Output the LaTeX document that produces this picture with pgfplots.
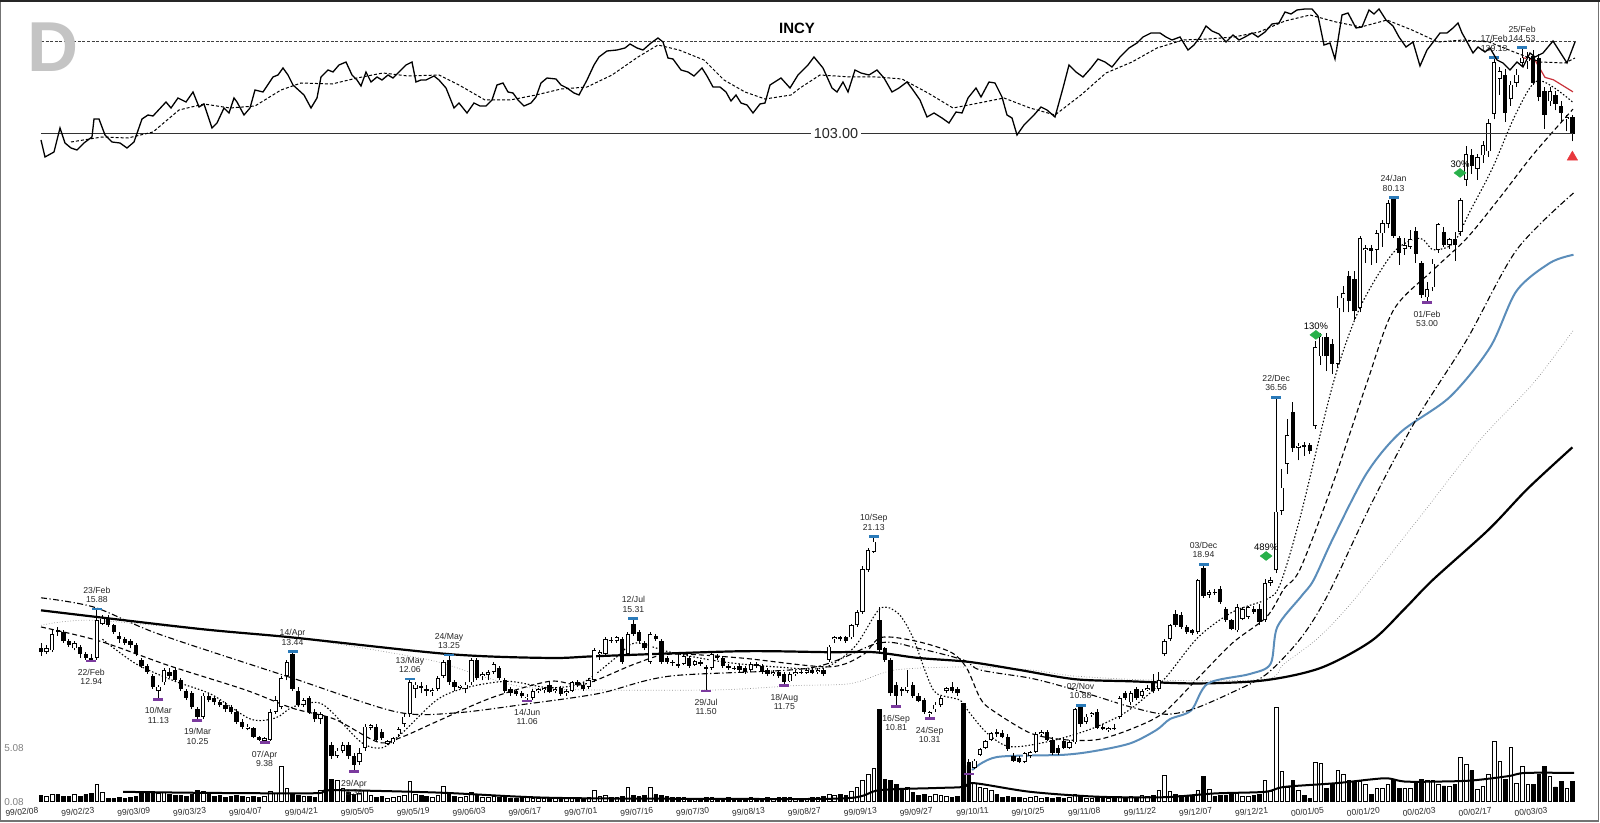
\documentclass[border=0pt]{standalone}
\usepackage{pgfplots}
\usepackage{pgfplotstable}
\pgfplotsset{compat=1.18}
\usepackage{fontspec}
\setmainfont{Liberation Sans}

\definecolor{hiblue}{HTML}{2A7AB9}
\definecolor{lopurple}{HTML}{7B3A9E}
\definecolor{dgreen}{HTML}{28B04A}
\definecolor{mablue}{HTML}{5B8DBA}
\definecolor{redl}{HTML}{C8323A}
\definecolor{tri}{HTML}{E8383D}

\pgfplotstableread{
i o h l c v
0 13.6 13.9 13.2 13.4 0.5
1 13.4 13.8 13.3 13.6 0.4
2 13.5 14.6 13.4 14.4 0.6
3 14.6 14.8 14.3 14.5 0.6
4 14.5 14.6 13.9 14.0 0.4
5 14.0 14.1 13.7 13.8 0.4
6 13.6 14.0 13.5 13.9 0.6
7 13.7 13.8 13.1 13.3 0.4
8 13.3 13.4 13.0 13.1 0.6
9 13.1 13.3 12.94 13.0 0.7
10 13.1 15.88 13.0 15.2 1.5
11 15.0 15.5 14.9 15.3 0.8
12 15.3 15.5 14.8 14.9 0.2
13 14.9 15.0 14.4 14.5 0.2
14 14.3 14.5 13.9 14.1 0.3
15 14.1 14.2 13.8 13.9 0.2
16 14.0 14.1 13.6 13.8 0.3
17 13.8 13.9 13.2 13.3 0.4
18 13.0 13.1 12.6 12.7 0.9
19 12.7 12.8 12.3 12.4 0.8
20 12.2 12.3 11.6 11.7 0.9
21 11.5 11.8 11.13 11.7 0.7
22 11.9 12.6 11.8 12.5 0.8
23 12.4 12.6 12.1 12.2 0.6
24 12.5 12.6 11.9 12.0 0.5
25 12.0 12.1 11.5 11.6 0.5
26 11.5 11.6 11.1 11.2 0.4
27 11.4 11.5 10.7 10.8 0.6
28 10.7 10.8 10.25 10.4 1.0
29 10.4 11.4 10.3 11.3 0.9
30 11.3 11.4 11.0 11.1 0.6
31 11.2 11.3 10.9 11.0 0.4
32 11.0 11.1 10.8 10.9 0.5
33 10.9 11.0 10.6 10.7 0.3
34 10.8 10.9 10.5 10.6 0.4
35 10.6 10.7 10.1 10.2 0.5
36 10.2 10.3 9.9 10.0 0.4
37 9.9 10.1 9.85 10.0 0.3
38 9.95 10.0 9.55 9.6 0.4
39 9.6 9.65 9.45 9.5 0.3
40 9.45 9.6 9.38 9.55 0.4
41 9.5 10.7 9.45 10.6 0.9
42 10.6 11.3 10.5 11.1 0.7
43 10.8 12.2 10.7 12.1 3.2
44 12.2 13.0 12.0 12.9 1.2
45 13.3 13.44 11.5 11.6 0.6
46 11.5 11.7 10.8 10.9 0.5
47 10.9 11.2 10.8 11.1 0.4
48 11.2 11.3 10.5 10.6 0.4
49 10.6 10.7 10.2 10.3 0.3
50 10.3 10.6 10.1 10.5 1.0
51 10.0 10.1 8.8 8.9 7.8
52 9.3 9.4 8.8 8.9 2.0
53 8.9 9.2 8.85 9.1 1.9
54 9.1 9.4 9.0 9.3 1.2
55 9.3 9.4 8.8 8.9 0.8
56 8.9 9.0 8.38 8.6 0.6
57 8.7 9.2 8.6 9.0 0.7
58 9.2 10.1 9.1 10.0 1.0
59 9.95 10.1 9.85 10.05 0.5
60 10.0 10.1 9.4 9.5 0.3
61 9.8 9.9 9.5 9.55 0.4
62 9.35 9.5 9.3 9.45 0.2
63 9.4 9.6 9.35 9.55 0.3
64 9.7 10.0 9.6 9.9 0.4
65 10.1 10.5 10.0 10.4 0.5
66 10.5 12.06 10.4 11.9 1.8
67 11.6 11.9 11.2 11.8 0.6
68 11.75 11.9 11.4 11.65 0.5
69 11.6 11.8 11.3 11.5 0.4
70 11.45 11.65 11.3 11.55 0.3
71 11.6 12.2 11.5 12.1 0.5
72 12.2 13.0 12.1 12.9 1.4
73 13.0 13.25 11.8 11.9 0.6
74 11.9 12.0 11.5 11.7 0.4
75 11.65 11.8 11.6 11.75 0.3
76 11.6 11.9 11.4 11.8 0.4
77 11.9 13.1 11.8 13.0 0.8
78 13.0 13.1 12.0 12.1 0.5
79 12.2 12.4 12.0 12.3 0.3
80 12.25 12.5 12.0 12.4 0.3
81 12.4 12.9 12.3 12.8 0.4
82 12.6 12.7 12.0 12.1 0.3
83 12.0 12.1 11.4 11.5 0.4
84 11.6 11.7 11.3 11.4 0.2
85 11.5 11.6 11.3 11.35 0.2
86 11.4 11.5 11.2 11.3 0.3
87 11.2 11.35 11.06 11.25 0.3
88 11.2 11.6 11.1 11.5 0.2
89 11.5 11.65 11.4 11.6 0.2
90 11.55 11.7 11.4 11.65 0.2
91 11.8 11.9 11.4 11.45 0.3
92 11.5 11.7 11.4 11.6 0.2
93 11.65 11.75 11.3 11.35 0.2
94 11.4 11.6 11.3 11.5 0.2
95 11.5 11.95 11.45 11.9 0.3
96 11.9 12.0 11.7 11.8 0.2
97 11.8 11.9 11.5 11.6 0.2
98 11.7 12.1 11.6 12.0 0.3
99 12.0 13.6 11.9 13.5 1.0
100 13.3 13.5 13.0 13.4 0.4
101 13.3 14.2 13.2 14.1 0.5
102 14.05 14.2 13.9 14.0 0.3
103 14.0 14.3 13.9 14.2 0.3
104 14.1 14.2 12.8 12.9 0.4
105 13.3 14.5 13.2 14.4 1.3
106 15.0 15.31 14.3 14.4 0.5
107 14.5 14.6 13.9 14.0 0.4
108 13.9 14.0 13.5 13.6 0.5
109 12.9 14.5 12.8 14.4 1.3
110 14.3 14.4 14.0 14.1 0.6
111 14.0 14.1 12.8 12.9 0.5
112 13.1 13.2 12.8 12.9 0.4
113 12.9 13.0 12.7 12.85 0.3
114 12.8 13.3 12.6 12.7 0.3
115 12.8 13.3 12.75 13.2 0.3
116 13.1 13.2 12.6 12.7 0.2
117 12.75 13.0 12.7 12.95 0.2
118 12.9 13.0 12.7 12.8 0.2
119 12.65 12.75 11.5 12.55 0.3
120 12.6 13.4 12.5 13.3 0.3
121 13.2 13.3 13.0 13.1 0.2
122 13.1 13.2 12.6 12.7 0.2
123 12.7 12.8 12.5 12.6 0.3
124 12.6 12.7 12.5 12.55 0.2
125 12.7 12.8 12.4 12.5 0.2
126 12.6 12.7 12.3 12.4 0.2
127 12.5 12.9 12.4 12.8 0.3
128 12.8 12.9 12.6 12.7 0.2
129 12.7 12.8 12.3 12.4 0.2
130 12.5 12.6 12.2 12.3 0.3
131 12.3 12.5 12.2 12.4 0.2
132 12.4 12.5 12.1 12.2 0.3
133 12.3 12.4 11.75 11.9 0.3
134 11.95 12.4 11.9 12.3 0.3
135 12.3 12.5 12.2 12.4 0.2
136 12.4 12.5 12.3 12.35 0.2
137 12.35 12.6 12.3 12.5 0.2
138 12.5 12.6 12.3 12.35 0.3
139 12.4 12.6 12.3 12.5 0.3
140 12.5 12.6 12.2 12.3 0.4
141 13.0 13.8 12.9 13.7 0.6
142 14.1 14.3 13.9 14.2 0.5
143 14.2 14.3 14.0 14.1 0.6
144 14.2 14.3 13.9 14.0 0.5
145 14.2 15.0 14.1 14.9 0.9
146 14.9 15.8 14.8 15.7 1.3
147 15.7 18.8 15.6 18.6 1.9
148 18.5 20.2 18.4 20.0 2.5
149 19.9 21.13 19.8 20.7 3.0
150 15.2 16.0 13.4 13.5 8.5
151 13.6 13.7 12.9 13.0 2.0
152 13.0 13.1 11.3 11.4 1.9
153 11.8 11.9 10.81 11.3 1.5
154 11.6 11.7 11.3 11.5 1.0
155 11.5 12.5 11.4 11.7 1.3
156 11.8 11.9 11.2 11.3 0.8
157 11.3 11.4 11.0 11.05 0.5
158 11.1 11.2 10.5 10.6 0.6
159 10.5 10.65 10.31 10.6 0.4
160 10.7 11.0 10.6 10.9 0.6
161 10.9 11.3 10.8 11.2 0.5
162 11.5 11.7 11.4 11.65 0.4
163 11.7 11.9 11.4 11.5 0.3
164 11.6 11.7 11.3 11.4 0.4
165 8.9 9.0 8.3 8.5 9.0
166 8.7 8.8 8.35 8.45 3.3
167 8.5 8.8 8.45 8.75 1.6
168 8.95 9.2 8.9 9.15 1.3
169 9.2 9.5 9.15 9.45 1.2
170 9.5 9.8 9.45 9.75 1.0
171 9.8 9.9 9.6 9.7 0.6
172 9.75 9.85 9.55 9.6 0.3
173 9.6 9.7 9.1 9.15 0.4
174 8.9 9.0 8.7 8.75 0.3
175 8.85 8.9 8.65 8.7 0.3
176 8.7 9.05 8.65 9.0 0.2
177 8.9 9.1 8.85 9.05 0.3
178 9.05 9.8 9.0 9.7 0.4
179 9.7 9.85 9.65 9.8 0.2
180 9.8 9.85 9.45 9.5 0.3
181 9.5 9.6 8.95 9.0 0.2
182 9.2 9.3 8.95 9.0 0.3
183 9.45 9.6 9.15 9.2 0.2
184 9.2 9.5 9.15 9.4 0.3
185 9.4 10.75 9.35 10.7 0.6
186 10.8 10.88 10.0 10.1 0.4
187 10.2 10.5 10.1 10.4 0.2
188 10.45 10.6 10.4 10.55 0.2
189 10.6 10.7 9.9 9.95 0.3
190 10.0 10.1 9.85 9.9 0.2
191 9.85 10.0 9.8 9.95 0.2
192 9.95 10.1 9.85 9.9 0.2
193 10.4 11.3 10.3 11.2 0.4
194 11.4 11.5 11.1 11.2 0.3
195 11.0 11.5 10.9 11.4 0.4
196 11.6 11.7 11.1 11.2 0.3
197 11.3 11.6 11.2 11.5 0.5
198 11.55 11.8 11.5 11.65 0.4
199 11.9 12.3 11.4 11.5 0.5
200 11.6 12.4 11.5 12.0 1.0
201 13.3 14.1 13.2 14.0 2.4
202 14.1 15.0 14.0 14.9 0.9
203 15.6 15.8 14.8 14.9 0.6
204 15.5 15.7 14.7 14.8 0.5
205 14.8 14.9 14.4 14.5 0.5
206 14.6 14.7 14.35 14.45 0.4
207 14.5 17.9 14.4 17.8 1.0
208 18.7 18.94 16.6 16.7 2.3
209 16.8 17.1 16.6 17.0 1.1
210 17.0 17.2 16.8 16.9 0.4
211 17.2 17.4 16.2 16.3 0.5
212 15.9 16.0 15.1 15.2 0.5
213 15.2 15.3 14.6 14.7 0.6
214 14.6 16.2 14.5 16.0 0.7
215 15.3 16.0 15.2 15.9 0.4
216 15.4 16.1 15.3 16.0 0.4
217 15.9 16.1 15.6 15.7 0.5
218 15.9 16.2 14.9 15.1 0.6
219 15.2 17.9 15.1 17.6 1.9
220 17.6 18.0 17.4 17.8 0.9
221 18.5 36.56 18.3 23.3 8.7
222 23.4 27.5 23.0 25.6 2.7
223 28.1 33.5 27.0 31.5 1.3
224 34.5 35.8 29.5 29.9 1.9
225 29.9 30.5 28.5 30.2 1.0
226 30.3 30.6 29.0 30.0 0.5
227 30.3 30.5 29.2 29.6 0.2
228 32.6 45.5 32.3 44.5 3.6
229 42.9 47.0 41.5 46.4 3.5
230 46.4 47.0 40.5 42.9 1.2
231 45.1 46.0 40.0 41.7 1.5
232 41.7 54.5 41.0 52.0 2.8
233 53.9 56.5 51.0 55.1 2.5
234 58.8 60.0 51.0 53.4 1.9
235 58.1 60.0 49.5 51.2 1.7
236 52.0 69.0 51.0 68.3 1.8
237 65.3 66.5 62.0 65.8 1.5
238 65.7 66.5 61.5 65.0 0.6
239 65.3 70.5 62.0 69.6 1.2
240 69.6 73.5 66.0 72.6 1.2
241 72.3 79.5 71.0 78.5 1.5
242 80.0 80.13 68.5 69.0 2.0
243 68.3 68.8 61.5 64.4 1.2
244 65.5 68.5 64.0 66.5 1.2
245 66.0 70.5 65.5 68.0 1.2
246 70.3 71.5 62.0 64.2 1.6
247 62.0 62.5 54.0 54.7 2.0
248 54.1 57.5 53.0 56.0 1.9
249 56.3 63.0 55.5 61.8 1.9
250 65.3 72.5 64.5 72.3 1.5
251 70.0 71.5 66.0 66.5 1.4
252 66.5 68.5 65.5 68.0 1.4
253 68.0 70.0 62.5 66.5 1.5
254 70.0 80.0 69.0 79.4 4.0
255 86.0 98.0 84.0 95.0 3.4
256 94.6 97.0 88.0 90.7 2.8
257 89.7 95.0 86.0 94.0 1.1
258 94.6 100.0 92.0 98.6 1.4
259 96.1 109.0 94.0 107.6 2.5
260 111.4 139.13 109.0 136.5 5.5
261 128.0 134.0 120.0 132.0 3.7
262 130.0 133.0 108.0 112.0 2.0
263 118.0 127.0 115.0 125.0 5.0
264 126.0 133.0 124.0 130.0 1.6
265 136.0 144.53 134.0 139.0 3.2
266 137.0 142.0 133.0 139.5 1.5
267 140.0 143.0 125.0 126.0 1.5
268 139.0 141.0 117.0 119.0 2.5
269 122.0 124.0 105.0 111.0 3.2
270 117.0 124.0 115.0 122.0 2.3
271 120.0 122.0 113.0 116.0 1.3
272 115.0 117.0 108.0 112.0 1.8
273 109.0 111.0 104.0 110.0 1.2
274 110.0 111.0 100.0 103.0 1.8
}\candles

\pgfplotsset{
  base/.style={scale only axis, width=1600bp, height=823bp, at={(0bp,0bp)}, anchor=south west,
    axis line style={draw=none}, major tick length=0pt, xtick=\empty, ytick=\empty},
  days/.style={xmin=-7.336, xmax=278.94},
}
\tikzset{lab/.style={font=\fontsize{8.7}{9.4}\selectfont, align=center, inner sep=0pt, text=black!85}}
\newcommand\hil[3]{\node[lab, anchor=south, yshift=6bp] at (axis cs:#1,#2) {#3};}
\newcommand\lol[3]{\node[lab, anchor=north, yshift=-8bp] at (axis cs:#1,#2) {#3};}
\newcommand\pct[3]{\node[font=\fontsize{9.5}{10}\selectfont, anchor=south, inner sep=0pt, yshift=5.5bp] at (axis cs:#1,#2) {#3};}

\begin{document}
\begin{tikzpicture}
\useasboundingbox (0,0) rectangle (1600bp,823bp);

% ---------------- volume panel ----------------
\begin{axis}[base, days, ymin=-2.037, ymax=74.17,
  xtick={0,10,...,270},
  xticklabels={99/02/08,99/02/23,99/03/09,99/03/23,99/04/07,99/04/21,99/05/05,99/05/19,99/06/03,99/06/17,99/07/01,99/07/16,99/07/30,99/08/13,99/08/27,99/09/13,99/09/27,99/10/11,99/10/25,99/11/08,99/11/22,99/12/07,99/12/21,00/01/05,00/01/20,00/02/03,00/02/17,00/03/03},
  xticklabel style={font=\fontsize{8.5}{9}\selectfont, anchor=east, rotate=5, yshift=13bp, xshift=2bp, text=black!85}]
\addplot[ybar, bar shift=0pt, bar width=3.6bp, draw=black, line width=0.7bp, fill=white,
  restrict expr to domain={\thisrow{c}-\thisrow{o}}{0:10000}] table[x=i,y=v]{\candles};
\addplot[ybar, bar shift=0pt, bar width=3.6bp, draw=black, line width=0.7bp, fill=black,
  restrict expr to domain={\thisrow{c}-\thisrow{o}}{-10000:0}] table[x=i,y=v]{\candles};
\addplot[black, line width=2bp, smooth, mark=none] coordinates {
(14.7,0.85) (30,0.75) (49,0.72) (52,1.0) (71,0.78) (91,0.3) (120,0.2) (144,0.25) (150,1.0)
(160,1.2) (165,1.3) (167,1.65) (177,0.85) (189,0.4) (201,0.35) (210,0.7) (219,0.85) (222.4,1.3)
(231.7,1.65) (238,2.0) (241,2.1) (244,1.8) (250,1.8) (256,1.9) (262.5,2.3) (265.6,2.6) (274.3,2.6)};
\end{axis}

% ---------------- price panel (log) ----------------
\begin{axis}[base, days, ymode=log, ymin=6.844, ymax=174.4]
\addplot[black!45, line width=0.7bp, dotted, smooth, mark=none] coordinates {
(0,14.9) (9,15.2) (30,14.6) (45,14.2) (60,13.5) (71,12.9) (80,12.1) (90,11.6) (120,11.55) (135,11.75)
(145,11.85) (153,12.5) (167,12.65) (177,12.5) (185,12.2) (200,12.0) (219,12.05) (222.4,12.8) (228.6,14.2)
(235,16.5) (246.7,22.8) (257.5,30.9) (267,38.6) (274.2,47.6)};
\addplot[black, line width=2.2bp, smooth, mark=none] coordinates {
(0,15.8) (28,14.7) (45,14.2) (73,13.3) (91,13.1) (100,13.2) (125,13.45) (141,13.4) (149,13.4) (157,13.1)
(166,12.9) (175,12.5) (185,12.05) (195,11.95) (207,11.85) (219,12.0) (229,12.6) (238,14.0) (244,15.9)
(249,17.8) (259,21.7) (266,25.5) (274,30.0)};
\addplot[mablue, line width=2bp, smooth, mark=none] coordinates {
(166.6,8.43) (171,8.87) (183,8.95) (189,9.1) (195,9.37) (199.6,9.87) (202,10.3) (205.8,10.66) (208.8,11.85)
(216.3,12.3) (220,12.8) (221.2,14.8) (225.5,16.7) (227.7,17.8) (231.2,21.0) (237.2,27.1) (243.2,31.8)
(252.1,36.6) (259.3,44.5) (264,55.5) (270,62) (274.2,64)};
\addplot[black, line width=1.1bp, dash pattern=on 6bp off 2.5bp on 1.2bp off 2.5bp, smooth, mark=none] coordinates {
(0,16.6) (9.5,16.0) (21,14.4) (45,12.1) (63.5,10.6) (74,10.55) (87.5,10.95) (100,11.4) (112.6,12.2)
(137.7,12.6) (150,13.9) (157,13.6) (165,13.0) (168,12.5) (177,12.1) (183,11.7) (189,11.25) (195,10.8)
(201,10.5) (206,10.7) (213.2,11.45) (219.3,12.3) (225.5,14.2) (230.4,16.9) (238,24) (246,33.4)
(255.1,45.8) (264,65.2) (274.2,81.6)};
\addplot[black, line width=1.1bp, dash pattern=on 5bp off 3bp, smooth, mark=none] coordinates {
(0,14.8) (10.5,14.0) (23,12.7) (36.6,11.55) (45,10.75) (52.5,10.3) (60.4,9.4) (64.6,9.6) (70.8,10.2)
(80.6,11.2) (91,11.95) (97,11.8) (106.3,12.8) (112.6,13.3) (125.2,13.1) (140.9,12.65) (147,13.25)
(150.3,14.2) (156.5,14.0) (162.8,13.4) (165.6,12.6) (168,11.2) (170,10.7) (177,9.75) (183,9.5) (189,9.5)
(195,9.9) (200.8,10.55) (207,12.1) (213.2,13.9) (219.3,15.4) (222.4,17.2) (225.3,18.6) (231.2,26.1)
(237.2,38.6) (242,51.5) (249.1,60.3) (255.1,68.3) (261.1,80.3) (267,95) (274.1,113.5)};
\addplot[black, line width=1.1bp, dash pattern=on 1.5bp off 2bp, smooth, mark=none] coordinates {
(11,14.1) (17,12.8) (24,11.95) (30.5,11.35) (37.5,10.3) (42,10.35) (45,10.8) (49.4,11.0) (52,10.6)
(57.3,9.4) (61,9.2) (64.6,9.75) (70.8,11.1) (76,11.65) (83.5,11.95) (91,11.65) (97,11.9) (103,13.15)
(106.3,13.9) (112.6,13.4) (122,12.9) (131.4,12.65) (140,12.6) (145.6,13.7) (150.1,15.9) (153.4,15.6)
(156,14.2) (158.4,12.3) (160.2,11.4) (164.4,11.1) (166,10.6) (169,9.8) (172.3,9.3) (175.4,9.25)
(181.7,9.5) (188.5,9.96) (194.6,10.66) (200.8,12.0) (207,14.2) (213.2,15.7) (219.3,16.5) (221.7,17.5)
(225.3,22.8) (231.2,38.6) (236,52) (242,64.6) (246.7,68.3) (249.1,65.3) (252.7,67) (255.7,76)
(259.7,90) (264,112) (267.9,127) (274,116.8)};
\addplot[redl, line width=1.2bp, mark=none] coordinates {
(265,139) (267.3,137.7) (269.1,128.6) (270.6,127.4) (274.1,121.5)};

% candles: wicks
\addplot[draw=none, mark=none, error bars/.cd, y dir=plus, y explicit, error mark=none,
  error bar style={line width=0.9bp, black}]
  table[x=i, y=l, y error plus expr=\thisrow{h}-\thisrow{l}]{\candles};
% bodies (outline / black fill)
\addplot[draw=none, mark=none, error bars/.cd, y dir=plus, y explicit, error mark=none,
  error bar style={line width=4.3bp, black}]
  table[x=i, y expr={min(\thisrow{o},\thisrow{c})}, y error plus expr={abs(\thisrow{c}-\thisrow{o})}]{\candles};
% white interior of rising candles
\addplot[draw=none, mark=none, restrict expr to domain={\thisrow{c}-\thisrow{o}}{0:10000},
  error bars/.cd, y dir=plus, y explicit, error mark=none,
  error bar style={line width=2.6bp, white, shorten <=0.8bp, shorten >=0.8bp}]
  table[x=i, y=o, y error plus expr=\thisrow{c}-\thisrow{o}]{\candles};

% high / low markers
\addplot[only marks, mark=-, mark size=5bp, mark options={line width=2.8bp, hiblue, solid}] coordinates {
(10,15.88) (45,13.44) (66,12.06) (73,13.25) (106,15.31) (149,21.13) (186,10.88) (208,18.94)
(221,36.56) (242,80.13) (260,139.13) (265,144.53)};
\addplot[only marks, mark=-, mark size=5bp, mark options={line width=2.8bp, lopurple, solid}] coordinates {
(9,12.94) (21,11.13) (28,10.25) (40,9.38) (56,8.38) (87,11.06) (119,11.50) (133,11.75) (153,10.81)
(159,10.31) (166,8.3) (248,53.00)};
\addplot[only marks, mark=diamond*, mark size=6bp, mark options={rotate=90, draw=dgreen, fill=dgreen}] coordinates {
(219.2,19.57) (228.1,46.7) (253.9,88.3)};
\addplot[only marks, mark=triangle*, mark size=6bp, mark options={draw=tri, fill=tri}] coordinates {(274,94.0)};

\hil{10}{15.88}{23/Feb\\15.88}
\hil{45}{13.44}{14/Apr\\13.44}
\hil{66}{12.06}{13/May\\12.06}
\hil{73}{13.25}{24/May\\13.25}
\hil{106}{15.31}{12/Jul\\15.31}
\hil{149}{21.13}{10/Sep\\21.13}
\hil{186}{10.88}{02/Nov\\10.88}
\hil{208}{18.94}{03/Dec\\18.94}
\hil{221}{36.56}{22/Dec\\36.56}
\hil{242}{80.13}{24/Jan\\80.13}
\hil{260}{139.13}{17/Feb\\139.13}
\hil{265}{144.53}{25/Feb\\144.53}
\lol{9}{12.94}{22/Feb\\12.94}
\lol{21}{11.13}{10/Mar\\11.13}
\lol{28}{10.25}{19/Mar\\10.25}
\lol{40}{9.38}{07/Apr\\9.38}
\lol{56}{8.38}{29/Apr\\8.38}
\lol{87}{11.06}{14/Jun\\11.06}
\lol{119}{11.50}{29/Jul\\11.50}
\lol{133}{11.75}{18/Aug\\11.75}
\lol{153}{10.81}{16/Sep\\10.81}
\lol{159}{10.31}{24/Sep\\10.31}
\lol{248}{53.00}{01/Feb\\53.00}
\pct{219.2}{19.57}{489\%}
\pct{228.1}{46.7}{130\%}
\pct{253.9}{88.3}{30\%}
\end{axis}

% ---------------- relative strength panel (pixel units) ----------------
\begin{axis}[base, xmin=0, xmax=1600, ymin=0, ymax=823, y dir=reverse, clip=false]
\addplot[black!75, line width=1.1bp, dash pattern=on 3bp off 1.6bp, mark=none] coordinates {(41,41.7) (1577,41.7)};
\addplot[black!80, line width=1.8bp, mark=none] coordinates {(41,133.5) (1573,133.5)};
\addplot[black, line width=1bp, dash pattern=on 3bp off 2bp, mark=none] coordinates {
(71,142) (102,137) (128,138) (153,132) (179,110) (204,104) (230,108) (255,106) (281,90) (301,83)
(332,84) (357,78) (383,73) (408,76) (439,75) (459,85) (485,100) (510,100) (536,95) (561,89) (587,87)
(612,75) (638,57) (658,45) (679,50) (704,60) (724,80) (745,92) (765,99) (791,95) (800,88) (820,75)
(851,77) (877,77) (902,79) (928,93) (953,108) (979,103) (1004,98) (1030,108) (1055,115) (1081,95)
(1106,73) (1132,62) (1157,48) (1183,40) (1208,39) (1234,37) (1259,32) (1285,21) (1310,15) (1336,22)
(1361,27) (1387,20) (1412,30) (1438,42) (1463,40) (1489,42) (1514,52) (1540,62) (1565,63) (1575,58)};
\addplot[black, line width=1.3bp, mark=none] coordinates {
(41,140) (45,157) (54,152) (60,128) (65,143) (71,148) (77,150) (84,143) (92,137) (94,119) (99,119)
(105,135) (112,142) (120,143) (127,148) (134,142) (142,119) (148,115) (153,116) (166,102) (171,108)
(178,98) (186,102) (193,92) (199,107) (204,104) (212,128) (217,123) (224,108) (229,113) (234,98)
(237,102) (244,115) (250,108) (255,90) (263,92) (273,77) (278,75) (283,68) (288,75) (293,85) (304,95)
(311,108) (317,98) (321,77) (328,70) (333,72) (339,65) (346,62) (352,75) (357,80) (361,86) (366,72)
(371,82) (377,77) (382,80) (388,75) (393,78) (401,70) (406,65) (412,62) (416,82) (421,80) (426,80)
(434,76) (439,80) (446,88) (454,108) (459,103) (467,113) (474,103) (480,106) (486,106) (492,100)
(497,85) (503,83) (508,92) (513,93) (518,100) (524,106) (531,103) (536,97) (541,83) (547,78) (556,79)
(561,85) (567,88) (574,93) (579,95) (587,80) (594,65) (599,57) (607,51) (617,50) (625,48) (630,44)
(637,48) (643,50) (651,43) (658,38) (663,42) (668,58) (673,59) (681,70) (688,72) (694,76) (702,68)
(707,76) (713,87) (720,87) (726,92) (731,101) (736,95) (741,103) (747,105) (753,113) (760,104)
(765,103) (770,85) (781,78) (790,88) (798,75) (808,65) (814,57) (823,68) (832,88) (837,92) (843,82)
(848,92) (855,70) (861,73) (869,75) (877,70) (884,78) (892,92) (899,88) (907,82) (913,90) (920,100)
(927,117) (934,113) (942,118) (949,123) (956,112) (962,113) (968,98) (976,88) (981,97) (989,82)
(995,83) (1002,97) (1007,115) (1012,118) (1017,135) (1024,125) (1034,115) (1041,107) (1047,110)
(1055,117) (1063,88) (1069,65) (1076,72) (1083,77) (1091,68) (1098,59) (1105,62) (1112,67) (1120,57)
(1129,48) (1137,43) (1143,37) (1151,33) (1160,33) (1166,37) (1172,40) (1180,37) (1188,50) (1194,45)
(1200,37) (1206,26) (1212,31) (1219,34) (1226,42) (1233,35) (1239,40) (1245,37) (1252,33) (1258,37)
(1265,32) (1272,24) (1279,23) (1285,12) (1291,14) (1297,10) (1305,9) (1312,9) (1318,16) (1324,45)
(1330,43) (1335,59) (1342,15) (1348,13) (1356,28) (1362,27) (1369,10) (1374,14) (1379,9) (1386,20)
(1393,26) (1399,37) (1406,47) (1413,42) (1420,66) (1427,50) (1434,41) (1440,33) (1447,33) (1453,28)
(1458,23) (1462,33) (1466,40) (1473,53) (1478,47) (1485,52) (1490,48) (1497,60) (1503,63) (1510,70)
(1517,62) (1523,67) (1530,53) (1535,57) (1543,53) (1553,41) (1560,52) (1567,63) (1575,42)};
\node[fill=white, inner sep=3bp, font=\fontsize{14.5}{15}\selectfont, text=black!85] at (axis cs:836,134) {103.00};
\node[font=\fontsize{15}{16}\selectfont\bfseries] at (axis cs:797,28) {INCY};
\node[font=\fontsize{71}{71}\selectfont\bfseries, text=black!23] at (axis cs:53.5,47.5) {D};
\node[font=\fontsize{10}{11}\selectfont, text=black!50] at (axis cs:14,748) {5.08};
\node[font=\fontsize{10}{11}\selectfont, text=black!50] at (axis cs:14,802) {0.08};
\draw[black!55, line width=1.2bp] (axis cs:0.6,1) rectangle (axis cs:1598.6,821);
\draw[black!85, line width=2bp] (axis cs:0,1) -- (axis cs:1600,1);
\end{axis}
\end{tikzpicture}
\end{document}
